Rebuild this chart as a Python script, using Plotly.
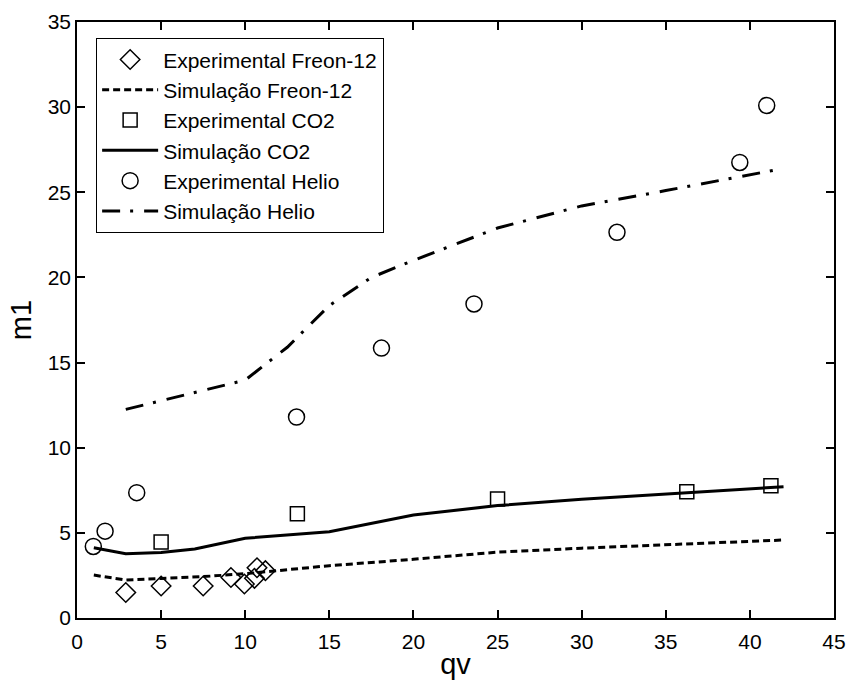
import plotly.graph_objects as go

# Data
freon_exp_x = [2.9, 5.0, 7.5, 9.15, 9.95, 10.55, 10.7, 11.2]
freon_exp_y = [1.5, 1.88, 1.88, 2.38, 2.0, 2.33, 2.95, 2.78]

freon_sim_x = [1.0, 2.9, 5.0, 7.5, 10.0, 15.0, 20.0, 25.0, 30.0, 35.0, 42.0]
freon_sim_y = [2.52, 2.23, 2.32, 2.43, 2.6, 3.07, 3.45, 3.87, 4.1, 4.3, 4.58]

co2_exp_x = [5.0, 13.1, 25.0, 36.25, 41.25]
co2_exp_y = [4.46, 6.12, 6.99, 7.42, 7.77]

co2_sim_x = [1.0, 2.9, 5.0, 7.0, 10.0, 15.0, 20.0, 25.0, 30.0, 35.0, 42.0]
co2_sim_y = [4.13, 3.78, 3.84, 4.05, 4.68, 5.07, 6.05, 6.6, 6.97, 7.28, 7.71]

helio_exp_x = [0.97, 1.67, 3.55, 13.05, 18.1, 23.6, 32.1, 39.4, 41.0]
helio_exp_y = [4.2, 5.1, 7.36, 11.8, 15.85, 18.44, 22.65, 26.75, 30.1]

helio_sim_x = [2.9, 5.0, 7.5, 10.0, 12.5, 15.0, 17.5, 20.0, 25.0, 30.0, 35.0, 42.0]
helio_sim_y = [12.25, 12.76, 13.36, 13.97, 15.9, 18.35, 20.0, 21.0, 22.9, 24.2, 25.1, 26.4]

FONT = "Liberation Sans, Arial, sans-serif"

fig = go.Figure()
fig.add_trace(go.Scatter(x=freon_exp_x, y=freon_exp_y, mode="markers",
                         name="Experimental Freon-12",
                         marker=dict(symbol="diamond-open", size=15, color="black",
                                     line=dict(width=1.5, color="black"))))
fig.add_trace(go.Scatter(x=freon_sim_x, y=freon_sim_y, mode="lines",
                         name="Simulação Freon-12",
                         line=dict(color="black", width=3, dash="7px,4px")))
fig.add_trace(go.Scatter(x=co2_exp_x, y=co2_exp_y, mode="markers",
                         name="Experimental CO2",
                         marker=dict(symbol="square-open", size=14, color="black",
                                     line=dict(width=1.5, color="black"))))
fig.add_trace(go.Scatter(x=co2_sim_x, y=co2_sim_y, mode="lines",
                         name="Simulação CO2",
                         line=dict(color="black", width=3)))
fig.add_trace(go.Scatter(x=helio_exp_x, y=helio_exp_y, mode="markers",
                         name="Experimental Helio",
                         marker=dict(symbol="circle-open", size=16, color="black",
                                     line=dict(width=1.5, color="black"))))
fig.add_trace(go.Scatter(x=helio_sim_x, y=helio_sim_y, mode="lines",
                         name="Simulação Helio",
                         line=dict(color="black", width=3, dash="18px,10px,3px,11px")))

axis_common = dict(showline=True, linecolor="black", linewidth=1.5, mirror="ticks",
                   ticks="inside", ticklen=8, tickwidth=1.5, tickcolor="black",
                   showgrid=False, zeroline=False, automargin=False,
                   tickfont=dict(family=FONT, size=21, color="black"))

fig.update_layout(
    width=851, height=682,
    margin=dict(l=77, r=17, t=22, b=64),
    paper_bgcolor="white", plot_bgcolor="white",
    font=dict(family=FONT, color="black"),
    showlegend=True,
    legend=dict(x=0.025, y=0.973, xanchor="left", yanchor="top",
                bgcolor="white", bordercolor="black", borderwidth=1.2,
                font=dict(family=FONT, size=21, color="black"),
                itemwidth=56, traceorder="normal"),
    xaxis=dict(range=[0, 45], dtick=5, tick0=0, ticklabelstandoff=4,
               title=dict(text="qv", font=dict(family=FONT, size=29, color="black"), standoff=2),
               **axis_common),
    yaxis=dict(range=[0, 35], dtick=5, tick0=0,
               title=dict(text="m1", font=dict(family=FONT, size=29, color="black"), standoff=8),
               **axis_common),
)

fig.write_html("out.html")
